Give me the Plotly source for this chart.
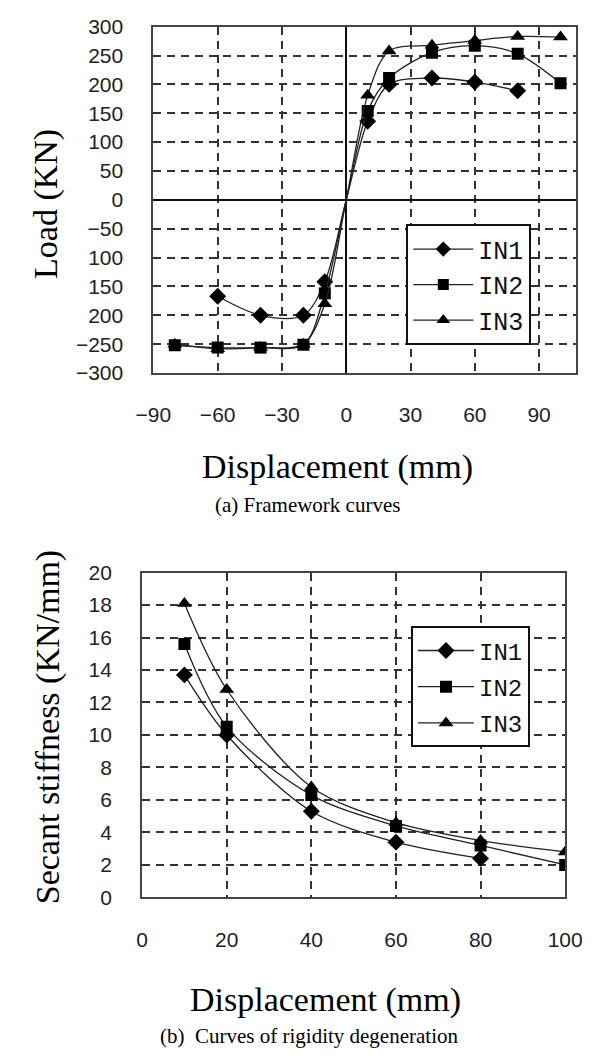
import plotly.graph_objects as go

W, H = 602, 1061

# ---------------- data: (a) framework curves ----------------
series_names = ["IN1", "IN2", "IN3"]
a_in1_x = [-60, -40, -20, -10, 0, 10, 20, 40, 60, 80]
a_in1_y = [-167, -200, -200, -142, 0, 136, 200, 211, 204, 189]
a_in2_x = [-80, -60, -40, -20, -10, 0, 10, 20, 40, 60, 80, 100]
a_in2_y = [-252, -256, -256, -251, -162, 0, 154, 211, 255, 267, 253, 202]
a_in3_x = [-80, -60, -40, -20, -10, 0, 10, 20, 40, 60, 80, 100]
a_in3_y = [-250, -258, -256, -250, -180, 0, 181, 258, 268, 276, 283, 282]
a_xticks = [-90, -60, -30, 0, 30, 60, 90]
a_xlabels = ["\u221290", "\u221260", "\u221230", "0", "30", "60", "90"]
a_yticks = [300, 250, 200, 150, 100, 50, 0, -50, -100, -150, -200, -250, -300]
a_ylabels = ["300", "250", "200", "150", "100", "50", "0", "\u221250", "100", "150", "200", "\u2212250", "\u2212300"]

# ---------------- data: (b) rigidity degeneration ----------------
b_x = [10, 20, 40, 60, 80, 100]
b_in1_x = [10, 20, 40, 60, 80]
b_in1_y = [13.7, 10.0, 5.3, 3.4, 2.4]
b_in2_y = [15.6, 10.5, 6.3, 4.4, 3.2, 2.0]
b_in3_y = [18.1, 12.8, 6.8, 4.6, 3.5, 2.8]
b_xticks = [0, 20, 40, 60, 80, 100]
b_yticks = [0, 2, 4, 6, 8, 10, 12, 14, 16, 18, 20]

symbols = ["diamond", "square", "triangle-up"]
msizes = [13, 12, 13]
LINE = dict(color="#222222", width=1.3, shape="spline", smoothing=0.9)

fig = go.Figure()

a_sets = [(a_in1_x, a_in1_y), (a_in2_x, a_in2_y), (a_in3_x, a_in3_y)]
for i, (xs, ys) in enumerate(a_sets):
    sizes = [0 if x == 0 else msizes[i] for x in xs]
    fig.add_trace(go.Scatter(
        x=xs, y=ys, mode="lines+markers", name=series_names[i],
        line=LINE,
        marker=dict(symbol=symbols[i], size=sizes, color="black", opacity=1,
                    line=dict(width=0, color="black")),
        xaxis="x", yaxis="y", legend="legend", legendgroup="a%d" % i))

b_sets = [(b_in1_x, b_in1_y), (b_x, b_in2_y), (b_x, b_in3_y)]
for i, (xs, ys) in enumerate(b_sets):
    fig.add_trace(go.Scatter(
        x=xs, y=ys, mode="lines+markers", name=series_names[i],
        line=LINE,
        marker=dict(symbol=symbols[i], size=msizes[i], color="black", opacity=1,
                    line=dict(width=0, color="black")),
        xaxis="x2", yaxis="y2", legend="legend2", legendgroup="b%d" % i))

def px(x):
    return x / W

def py(y):
    return 1 - y / H

TICKFONT = dict(family="Liberation Sans", size=21, color="#222222")
GRID = dict(showgrid=True, gridcolor="#333333", gridwidth=1.8, griddash="8px,6px")
BORDER = dict(showline=True, linecolor="#444444", linewidth=2, mirror=True, ticks="")

fig.update_layout(
    width=W, height=H,
    margin=dict(l=0, r=0, t=0, b=0),
    paper_bgcolor="white", plot_bgcolor="white",
    xaxis=dict(domain=[px(144), px(593)], range=[-90, 107], anchor="y",
               tickvals=a_xticks, ticktext=a_xlabels, tickfont=TICKFONT,
               ticklabelstandoff=22, zeroline=True, zerolinecolor="#111111",
               zerolinewidth=1.8, **GRID, **BORDER),
    yaxis=dict(domain=[py(369), py(15)], range=[-300, 300], anchor="x",
               tickvals=a_yticks, ticktext=a_ylabels, tickfont=TICKFONT,
               ticklabelstandoff=24, zeroline=True, zerolinecolor="#111111",
               zerolinewidth=1.8, **GRID, **BORDER),
    xaxis2=dict(domain=[px(132), px(582)], range=[0, 100], anchor="y2",
                tickvals=b_xticks, tickfont=TICKFONT, ticklabelstandoff=22,
                zeroline=False, **GRID, **BORDER),
    yaxis2=dict(domain=[py(905), py(573)], range=[0, 20], anchor="x2",
                tickvals=b_yticks, tickfont=TICKFONT, ticklabelstandoff=24,
                zeroline=False, **GRID, **BORDER),
    legend=dict(x=px(413), y=py(217), xanchor="left", yanchor="top",
                bgcolor="white", bordercolor="#111111", borderwidth=2,
                font=dict(family="Liberation Mono", size=25, color="#111111"),
                itemwidth=60, traceorder="grouped", tracegroupgap=0),
    legend2=dict(x=px(418), y=py(628), xanchor="left", yanchor="top",
                 bgcolor="white", bordercolor="#111111", borderwidth=2,
                 font=dict(family="Liberation Mono", size=24, color="#111111"),
                 itemwidth=56, traceorder="grouped", tracegroupgap=2),
    showlegend=True,
)

SERIF = "Liberation Serif, Times New Roman, serif"
annots = [
    dict(text="Load (KN)", x=px(30), y=py(196), textangle=-90, size=34),
    dict(text="Displacement (mm)", x=px(340), y=py(465), textangle=0, size=34),
    dict(text="(a) Framework curves", x=px(308), y=py(504), textangle=0, size=21),
    dict(text="Secant stiffness (KN/mm)", x=px(32), y=py(731), textangle=-90, size=34),
    dict(text="Displacement (mm)", x=px(327), y=py(1010), textangle=0, size=34),
    dict(text="(b)  Curves of rigidity degeneration", x=px(309), y=py(1047), textangle=0, size=21),
]
for a in annots:
    fig.add_annotation(text=a["text"], x=a["x"], y=a["y"], xref="paper", yref="paper",
                       xanchor="center", yanchor="middle", showarrow=False,
                       textangle=a["textangle"],
                       font=dict(family=SERIF, size=a["size"], color="black"))

fig.write_html("out.html")
